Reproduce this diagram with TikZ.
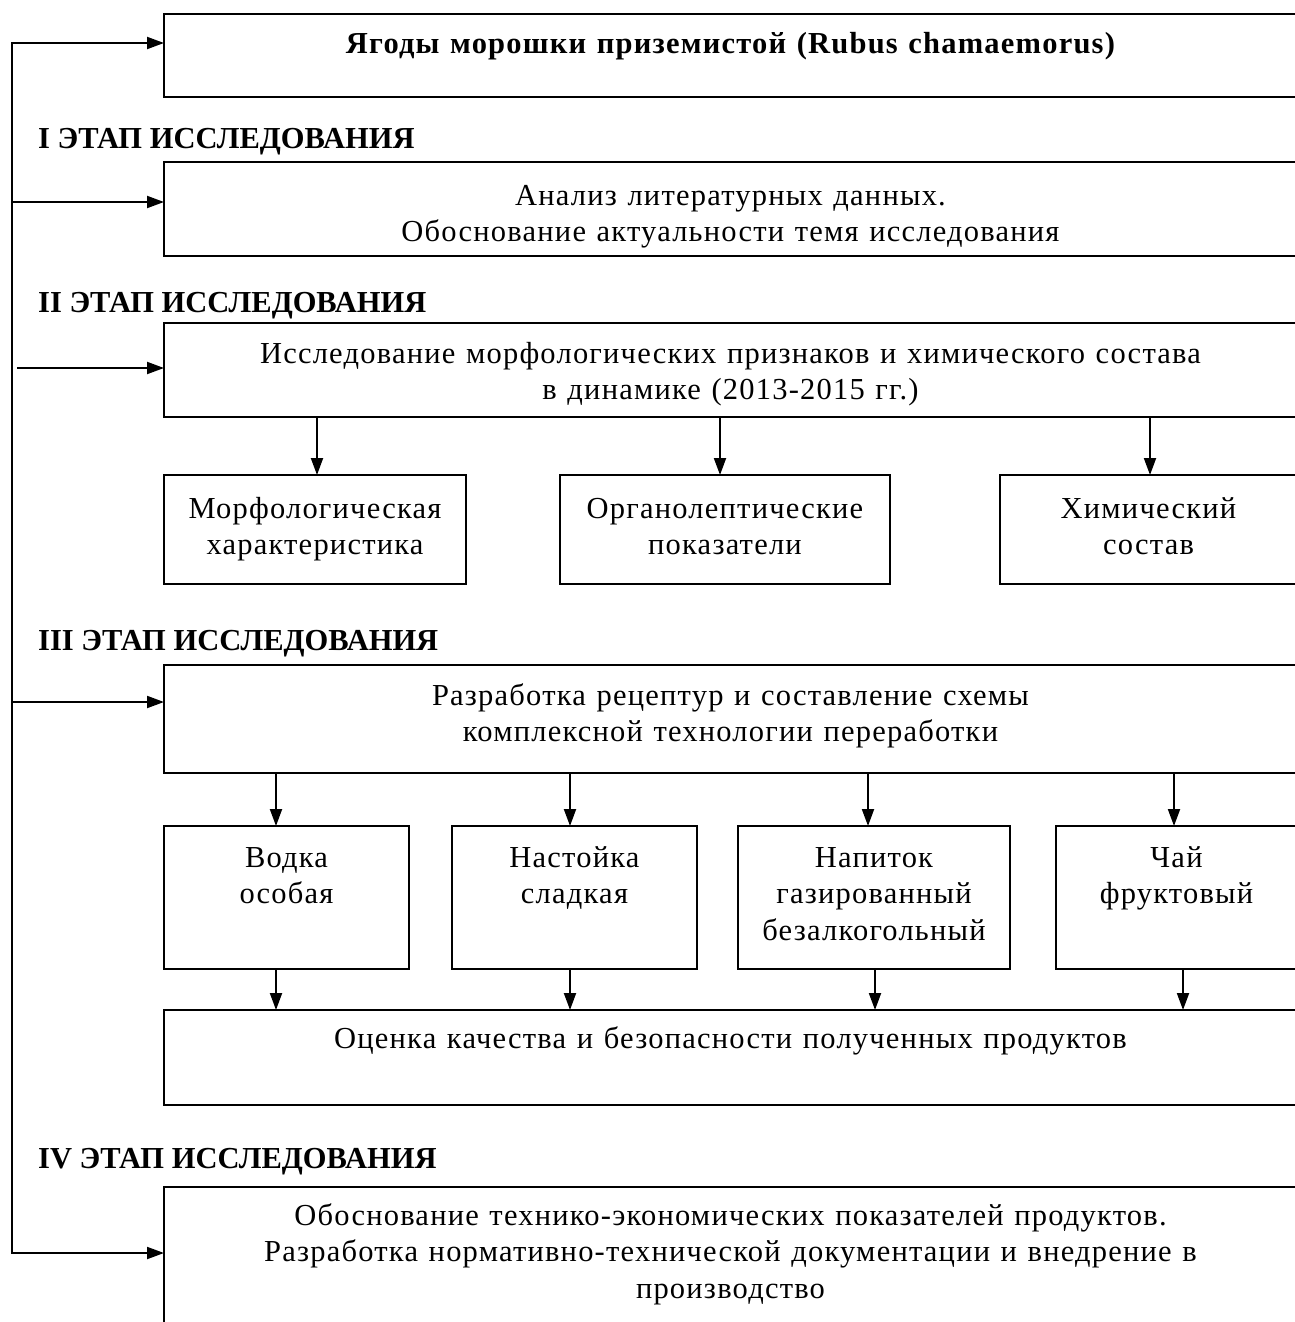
\documentclass[tikz,border=0pt]{standalone}
\usepackage{fontspec}
\setmainfont{Liberation Serif}
\newfontfamily\widefont{Liberation Serif}[LetterSpace=4, WordSpace=1.2]
\usetikzlibrary{arrows.meta}
\newcommand\fsz{\fontsize{30.5}{36.5}\selectfont}
\newcommand\tl{\rule{0pt}{28pt}}
\tikzset{
  box/.style={draw, line width=2pt, anchor=north west, inner sep=0pt, outer sep=0pt},
  txt/.style={anchor=north, align=center, inner sep=0pt, font=\widefont\fsz},
  lab/.style={anchor=base west, inner sep=0pt, font=\fsz\bfseries},
  tip/.tip={Triangle[length=17pt,width=12pt]},
  arr/.style={line width=2pt, -tip},
  line/.style={line width=2pt}
}
\begin{document}
\begin{tikzpicture}[x=1pt,y=-1pt]
\useasboundingbox (0,0) rectangle (1295,1322);
\clip (0,0) rectangle (1295,1322);
% boxes
\node[box, minimum width=1133pt, minimum height=83pt]  (b1) at (164,14)  {};
\node[box, minimum width=1133pt, minimum height=94pt]  (b2) at (164,162) {};
\node[box, minimum width=1133pt, minimum height=94pt]  (b3) at (164,323) {};
\node[box, minimum width=302pt,  minimum height=109pt] (m1) at (164,475) {};
\node[box, minimum width=330pt,  minimum height=109pt] (m2) at (560,475) {};
\node[box, minimum width=297pt,  minimum height=109pt] (m3) at (1000,475) {};
\node[box, minimum width=1133pt, minimum height=108pt] (b4) at (164,665) {};
\node[box, minimum width=245pt,  minimum height=143pt] (p1) at (164,826) {};
\node[box, minimum width=245pt,  minimum height=143pt] (p2) at (452,826) {};
\node[box, minimum width=272pt,  minimum height=143pt] (p3) at (738,826) {};
\node[box, minimum width=241pt,  minimum height=143pt] (p4) at (1056,826) {};
\node[box, minimum width=1133pt, minimum height=95pt]  (b5) at (164,1010) {};
\node[box, minimum width=1133pt, minimum height=160pt] (b6) at (164,1187) {};
% texts
\node[txt, font=\widefont\fsz\bfseries] (t1) at (730.5,25) {\tl Ягоды морошки приземистой (Rubus chamaemorus)};
\node[txt] (t2) at (730.5,177) {\tl Анализ литературных данных.\\ Обоснование актуальности темя исследования};
\node[txt] (t3) at (730.5,335) {\tl Исследование морфологических признаков и химического состава\\ в динамике (2013-2015 гг.)};
\node[txt] (tm1) at (315,490) {\tl Морфологическая\\ характеристика};
\node[txt] (tm2) at (725,490) {\tl Органолептические\\ показатели};
\node[txt] (tm3) at (1148.5,490) {\tl Химический\\ состав};
\node[txt] (t4) at (730.5,677) {\tl Разработка рецептур и составление схемы\\ комплексной технологии переработки};
\node[txt] (tp1) at (286.5,839) {\tl Водка\\ особая};
\node[txt] (tp2) at (574.5,839) {\tl Настойка\\ сладкая};
\node[txt] (tp3) at (874,839) {\tl Напиток\\ газированный\\ безалкогольный};
\node[txt] (tp4) at (1176.5,839) {\tl Чай\\ фруктовый};
\node[txt] (t5) at (730.5,1020) {\tl Оценка качества и безопасности полученных продуктов};
\node[txt] (t6) at (730.5,1197) {\tl Обоснование технико-экономических показателей продуктов.\\ Разработка нормативно-технической документации и внедрение в\\ производство};
% stage labels
\node[lab] (l1) at (38,148)  {I ЭТАП ИССЛЕДОВАНИЯ};
\node[lab] (l2) at (38,312)  {II ЭТАП ИССЛЕДОВАНИЯ};
\node[lab] (l3) at (38,650)  {III ЭТАП ИССЛЕДОВАНИЯ};
\node[lab] (l4) at (38,1168) {IV ЭТАП ИССЛЕДОВАНИЯ};
% left trunk
\coordinate (k1) at (12,43);
\coordinate (k2) at (12,202);
\coordinate (k3) at (17,368);
\coordinate (k4) at (12,702);
\coordinate (k6) at (12,1253);
\draw[line, tip-tip, line join=miter] (k1 -| b1.west) -- (k1) -- (k6) -- (k6 -| b6.west);
\draw[arr] (k2) -- (k2 -| b2.west);
\draw[arr] (k3) -- (k3 -| b3.west);
\draw[arr] (k4) -- (k4 -| b4.west);
% stage II arrows
\coordinate (a1) at (317,475);
\coordinate (a2) at (720,475);
\coordinate (a3) at (1150,475);
\draw[arr] (a1 |- b3.south) -- (a1);
\draw[arr] (a2 |- b3.south) -- (a2);
\draw[arr] (a3 |- b3.south) -- (a3);
% stage III arrows
\coordinate (c1) at (276,826);
\coordinate (c2) at (570,826);
\coordinate (c3) at (868,826);
\coordinate (c4) at (1174,826);
\draw[arr] (c1 |- b4.south) -- (c1);
\draw[arr] (c2 |- b4.south) -- (c2);
\draw[arr] (c3 |- b4.south) -- (c3);
\draw[arr] (c4 |- b4.south) -- (c4);
\coordinate (d1) at (276,1010);
\coordinate (d2) at (570,1010);
\coordinate (d3) at (875,1010);
\coordinate (d4) at (1183,1010);
\draw[arr] (d1 |- p1.south) -- (d1);
\draw[arr] (d2 |- p2.south) -- (d2);
\draw[arr] (d3 |- p3.south) -- (d3);
\draw[arr] (d4 |- p4.south) -- (d4);
\end{tikzpicture}
\end{document}
